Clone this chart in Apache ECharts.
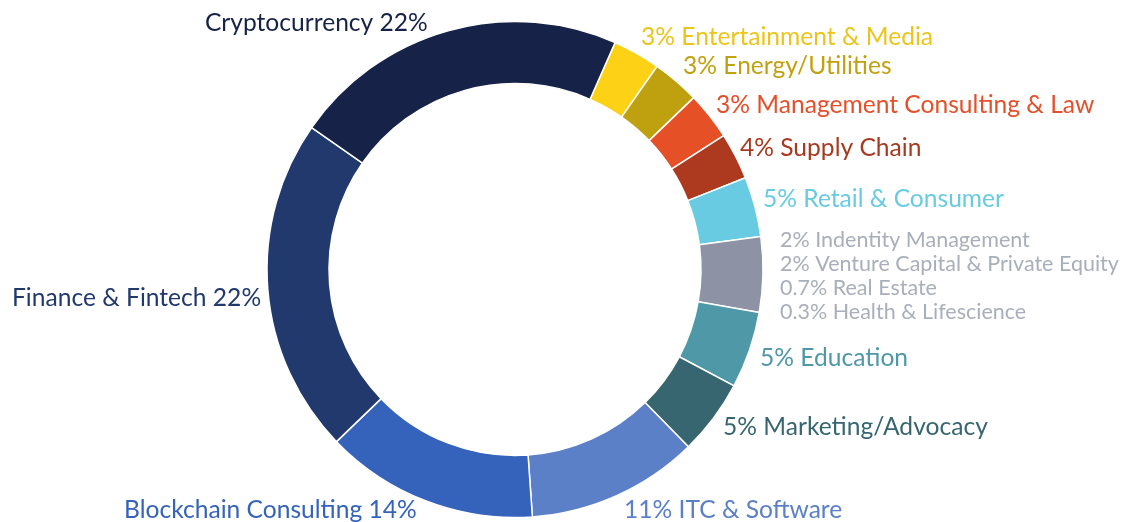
<!DOCTYPE html>
<html>
<head>
<meta charset="utf-8">
<script src="https://cdn.jsdelivr.net/npm/echarts@6/dist/echarts.min.js"></script>
<style>
html,body{margin:0;padding:0;background:#fff;}
#chart{width:1136px;height:522px;}
</style>
</head>
<body>
<div id="chart"></div>
<script>
// Categories in clockwise order starting at the Entertainment slice
const categories = ['Entertainment & Media','Energy/Utilities','Management Consulting & Law','Supply Chain','Retail & Consumer','Identity, VC & PE, Real Estate, Health','Education','Marketing/Advocacy','ITC & Software','Blockchain Consulting','Finance & Fintech','Cryptocurrency'];
// Slice sizes read from the drawn arcs (percent of ring)
const sliceShares = [3.1,3.1,3.1,3.05,3.9,4.9,5.0,4.9,11.2,13.9,21.9,21.9];
// Printed labels
const labelTexts = ['3% Entertainment & Media','3% Energy/Utilities','3% Management Consulting & Law','4% Supply Chain','5% Retail & Consumer',null,'5% Education','5% Marketing/Advocacy','11% ITC & Software','Blockchain Consulting 14%','Finance & Fintech 22%','Cryptocurrency 22%'];
const greyGroupLabels = ['2% Indentity Management','2% Venture Capital & Private Equity','0.7% Real Estate','0.3% Health & Lifescience'];

// styles
const sliceColors = ['#fcd116','#bfa00f','#e55027','#ad391e','#68cbe1','#8d93a4','#4e98a8','#386670','#5b80c8','#3562bb','#21396c','#162247'];
const labelColors = ['#ecc41a','#c2a110','#e4502a','#a8391f','#68cbe1','#a9aebb','#4e98a8','#386670','#5b80c8','#3562bb','#21396c','#162247'];
// label anchor: [left x, middle y]
const labelPos = [[641,37],[683,66],[716,105],[740,148],[763,199],[780,276],[760,358],[723,427],[624,510],[124,510],[12,298],[205,23]];

const FONT = 'Lato';
const data = categories.map((c,i)=>({
  name:c, value:sliceShares[i],
  itemStyle:{color:sliceColors[i]},
  label:{
    color:labelColors[i],
    fontSize: i===5 ? 21.5 : 24.6,
    lineHeight: i===5 ? 24 : 28,
    formatter: i===5 ? greyGroupLabels.join('\n') : labelTexts[i]
  }
}));

const chart = echarts.init(document.getElementById('chart'), null, {renderer:'canvas'});
chart.setOption({
  animation:false,
  series:[{
    type:'pie',
    center:[515,269.5],
    radius:[186,248],
    startAngle:66.2,
    clockwise:true,
    avoidLabelOverlap:false,
    silent:true,
    itemStyle:{borderColor:'#ffffff',borderWidth:1.5},
    label:{show:true,position:'outside',fontFamily:FONT,fontWeight:'normal',align:'left'},
    labelLine:{show:false},
    labelLayout:function(p){
      const pos = labelPos[p.dataIndex];
      return {x:pos[0], y:pos[1], align:'left', verticalAlign:'middle', hideOverlap:false, moveOverlap:false};
    },
    data:data
  }]
});
</script>
</body>
</html>
